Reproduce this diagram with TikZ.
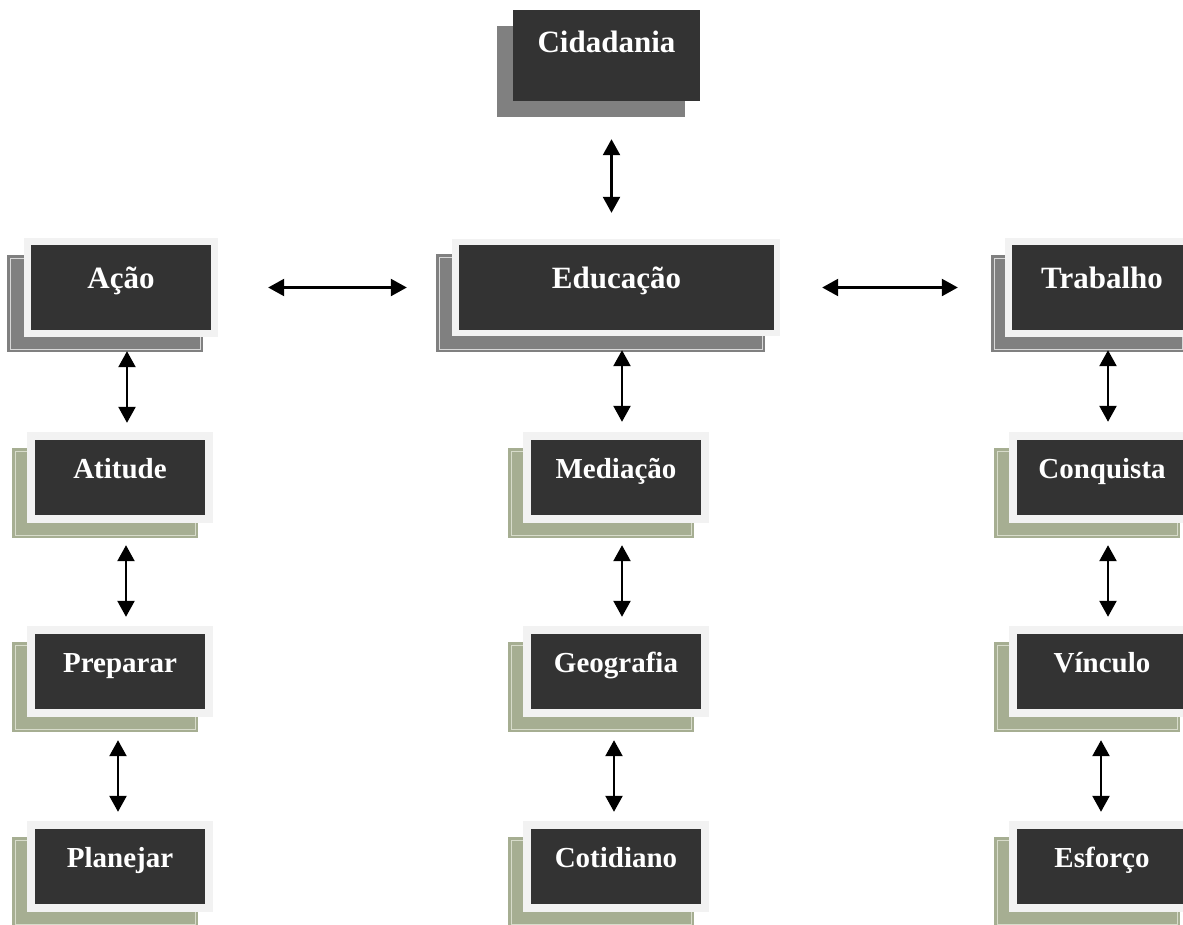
\documentclass[tikz,border=0pt]{standalone}
\usepackage{fontspec}
\setmainfont{Liberation Serif}
\usetikzlibrary{arrows.meta}
\definecolor{darkbox}{HTML}{333333}
\definecolor{framegray}{HTML}{F2F2F2}
\definecolor{shgray}{HTML}{808080}
\definecolor{shgreen}{HTML}{A6AE92}
\definecolor{lngray}{HTML}{D9D9D9}
\definecolor{lngreen}{HTML}{D8DCCB}
\newcommand\mkshad[6]{%
  \fill[#5] (#1,#2) rectangle (#3,#4);
  \draw[#6, line width=1pt] (#1+3,#2+3) rectangle (#3-3,#4-3);}
\newcommand\mksmall[4]{% name, left, top, text
  \mkshad{#2-23}{#3+8}{#2+163}{#3+98}{shgreen}{lngreen}
  \fill[framegray] (#2-8,#3-8) rectangle (#2+178,#3+83);
  \node[smallbox] (#1) at (#2+85,#3+37.5) {#4};}
\begin{document}
\begin{tikzpicture}[x=1pt,y=-1pt,
  bigbox/.style={fill=darkbox, text=white, inner sep=0pt, font=\fontsize{31}{31}\selectfont\bfseries, minimum height=85pt, text height=43pt, text depth=42pt},
  smallbox/.style={fill=darkbox, text=white, inner sep=0pt, minimum width=170pt, font=\fontsize{29}{29}\selectfont\bfseries, minimum height=75pt, text height=38pt, text depth=37pt},
  dar/.style={{Triangle[width=17pt,length=16pt]}-{Triangle[width=17pt,length=16pt]}, line width=2.4pt}
]
\useasboundingbox (0,0) rectangle (1183,924);
\clip (0,0) rectangle (1183,924);
\fill[white] (0,0) rectangle (1183,924);

% Cidadania
\fill[shgray] (497,26) rectangle (685,117);
\node[bigbox, minimum width=187pt, minimum height=91pt, text height=42pt, text depth=49pt] (cid) at (606.5,55.5) {Cidadania};

% big row
\mkshad{7}{255}{203}{352}{shgray}{lngray}
\fill[framegray] (24,238) rectangle (218,337);
\node[bigbox, minimum width=180pt] (aca) at (121,287.5) {Ação};

\mkshad{436}{254}{765}{352}{shgray}{lngray}
\fill[framegray] (452,239) rectangle (780,336);
\node[bigbox, minimum width=315pt] (edu) at (616.5,287.5) {Educação};

\mkshad{991}{255}{1185}{352}{shgray}{lngray}
\fill[framegray] (1005,238) rectangle (1199,337);
\node[bigbox, minimum width=180pt] (tra) at (1102,287.5) {Trabalho};

% small boxes
\mksmall{ati}{35}{440}{Atitude}
\mksmall{pre}{35}{634}{Preparar}
\mksmall{pla}{35}{829}{Planejar}
\mksmall{med}{531}{440}{Mediação}
\mksmall{geo}{531}{634}{Geografia}
\mksmall{cot}{531}{829}{Cotidiano}
\mksmall{con}{1017}{440}{Conquista}
\mksmall{vin}{1017}{634}{Vínculo}
\mksmall{esf}{1017}{829}{Esforço}

% arrows
\draw[dar, shorten <=38pt, shorten >=32pt] ([xshift=5pt]cid.south) -- ([xshift=-5pt]edu.north);
\draw[dar, shorten <=57pt, shorten >=52pt] (aca.east) -- (edu.west);
\draw[dar, shorten <=48pt, shorten >=54pt] (edu.east) -- (tra.west);

\draw[dar, shorten <=21pt, shorten >=17pt] ([xshift=6pt]aca.south) -- ([xshift=7pt]ati.north);
\draw[dar, shorten <=30pt, shorten >=17pt] ([xshift=6pt]ati.south) -- ([xshift=6pt]pre.north);
\draw[dar, shorten <=31pt, shorten >=17pt] ([xshift=-2pt]pre.south) -- ([xshift=-2pt]pla.north);

\draw[dar, shorten <=20pt, shorten >=18pt] ([xshift=5.5pt]edu.south) -- ([xshift=6pt]med.north);
\draw[dar, shorten <=30pt, shorten >=17pt] ([xshift=6pt]med.south) -- ([xshift=6pt]geo.north);
\draw[dar, shorten <=31pt, shorten >=17pt] ([xshift=-2pt]geo.south) -- ([xshift=-2pt]cot.north);

\draw[dar, shorten <=20pt, shorten >=18pt] ([xshift=6pt]tra.south) -- ([xshift=6pt]con.north);
\draw[dar, shorten <=30pt, shorten >=17pt] ([xshift=6pt]con.south) -- ([xshift=6pt]vin.north);
\draw[dar, shorten <=31pt, shorten >=17pt] ([xshift=-1pt]vin.south) -- ([xshift=-1pt]esf.north);
\end{tikzpicture}
\end{document}
